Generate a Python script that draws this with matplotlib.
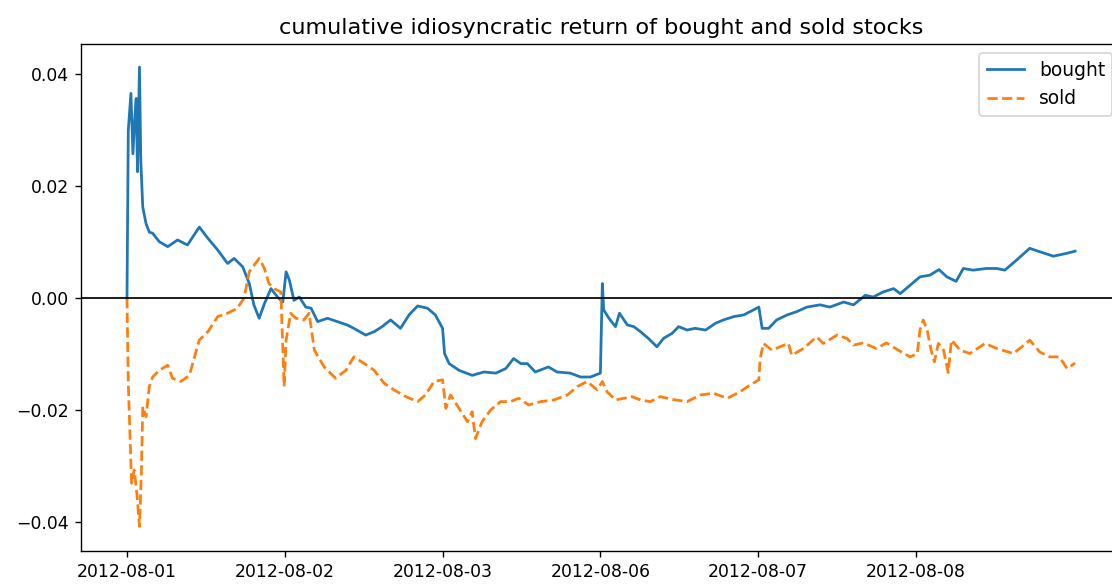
import matplotlib
matplotlib.use("Agg")
import matplotlib.pyplot as plt

# minute index within the trading sessions (240 per day)
bought_x = [0, 2, 6, 9, 12, 14, 16, 19, 21, 24, 29, 34, 39, 49, 62, 77, 92, 110, 123, 138,
            153, 163, 176, 186, 193, 201, 209, 219, 229, 237, 242, 247, 254, 262, 272, 280,
            290, 305, 320, 335, 345, 363, 376, 388, 401, 416, 429, 442, 457, 469, 480, 483,
            490, 505, 525, 543, 561, 576, 588, 599, 609, 621, 641, 654, 674, 690, 705, 720,
            723, 725, 733, 743, 749, 761, 771, 781, 793, 806, 816, 829, 839, 852, 864, 880,
            895, 907, 923, 938, 948, 961, 966, 976, 988, 1004, 1019, 1034, 1054, 1069, 1090,
            1105, 1123, 1135, 1150, 1166, 1176, 1191, 1206, 1221, 1235, 1247, 1261, 1272,
            1287, 1307, 1323, 1335, 1353, 1373, 1388, 1409, 1429, 1442]
bought_y = [0.0, 0.030, 0.0366, 0.0258, 0.0324, 0.0357, 0.0226, 0.0413, 0.0246, 0.0163,
            0.0133, 0.0118, 0.0116, 0.0101, 0.0092, 0.0104, 0.0095, 0.0127, 0.0107, 0.0086,
            0.0062, 0.0071, 0.0056, 0.0026, -0.0012, -0.0036, -0.0010, 0.0017, 0.0002,
            -0.0007, 0.0047, 0.0032, -0.0004, 0.0002, -0.0016, -0.0018, -0.0042, -0.0036,
            -0.0042, -0.0048, -0.0054, -0.0066, -0.0060, -0.0051, -0.0039, -0.0054, -0.0030,
            -0.0014, -0.0018, -0.0030, -0.0054, -0.0099, -0.0117, -0.0129, -0.0138, -0.0132,
            -0.0134, -0.0126, -0.0108, -0.0117, -0.0117, -0.0132, -0.0123, -0.0132, -0.0134,
            -0.0141, -0.0141, -0.0134, 0.0026, -0.0021, -0.0036, -0.0051, -0.0027, -0.0048,
            -0.0051, -0.0060, -0.0072, -0.0087, -0.0072, -0.0063, -0.0051, -0.0057, -0.0054,
            -0.0057, -0.0045, -0.0039, -0.0033, -0.0030, -0.0024, -0.0016, -0.0054, -0.0054,
            -0.0039, -0.0030, -0.0024, -0.0016, -0.0012, -0.0016, -0.0007, -0.0012, 0.0005,
            0.0002, 0.0011, 0.0017, 0.0008, 0.0023, 0.0038, 0.0041, 0.0051, 0.0038, 0.0030,
            0.0053, 0.0050, 0.0053, 0.0053, 0.0050, 0.0068, 0.0089, 0.0083, 0.0075, 0.0080,
            0.0084]

sold_x = [0, 2, 5, 7, 11, 15, 19, 22, 24, 29, 34, 39, 49, 62, 69, 82, 95, 102, 110, 123,
          138, 153, 168, 178, 186, 201, 209, 216, 224, 234, 239, 242, 249, 257, 269, 277,
          285, 300, 317, 333, 345, 361, 376, 391, 406, 424, 442, 454, 467, 480, 485, 492,
          505, 518, 525, 530, 540, 553, 568, 583, 596, 611, 629, 649, 670, 685, 700, 715,
          723, 730, 743, 756, 768, 781, 796, 811, 829, 852, 872, 892, 913, 933, 948, 961,
          963, 968, 981, 993, 1006, 1011, 1029, 1049, 1059, 1080, 1095, 1105, 1120, 1140,
          1155, 1173, 1191, 1202, 1206, 1211, 1217, 1223, 1228, 1234, 1242, 1249, 1254,
          1267, 1282, 1305, 1323, 1348, 1361, 1373, 1388, 1403, 1418, 1430, 1442]
sold_y = [0.0, -0.0152, -0.0260, -0.0331, -0.0307, -0.0349, -0.0408, -0.0307, -0.0194,
          -0.0212, -0.0158, -0.0141, -0.0129, -0.0120, -0.0143, -0.0149, -0.0138, -0.0108,
          -0.0075, -0.0060, -0.0033, -0.0027, -0.0018, 0.0, 0.0047, 0.0071, 0.0053, 0.0026,
          0.0017, 0.0011, -0.0158, -0.0075, -0.0027, -0.0036, -0.0039, -0.0027, -0.0093,
          -0.0123, -0.0143, -0.0129, -0.0105, -0.0117, -0.0129, -0.0152, -0.0164, -0.0176,
          -0.0185, -0.0173, -0.0149, -0.0146, -0.0197, -0.0173, -0.0197, -0.0221, -0.0203,
          -0.0251, -0.0221, -0.0200, -0.0185, -0.0185, -0.0179, -0.0191, -0.0185, -0.0182,
          -0.0173, -0.0158, -0.0149, -0.0164, -0.0149, -0.0167, -0.0182, -0.0179, -0.0176,
          -0.0182, -0.0185, -0.0176, -0.0181, -0.0185, -0.0173, -0.0170, -0.0179, -0.0167,
          -0.0155, -0.0146, -0.0108, -0.0081, -0.0093, -0.0087, -0.0081, -0.0102, -0.0090,
          -0.0069, -0.0081, -0.0066, -0.0072, -0.0084, -0.0080, -0.0090, -0.0080, -0.0093,
          -0.0105, -0.0099, -0.0057, -0.0039, -0.0057, -0.0093, -0.0114, -0.0081, -0.0093,
          -0.0133, -0.0075, -0.0093, -0.0099, -0.0081, -0.0090, -0.0099, -0.0087, -0.0075,
          -0.0096, -0.0105, -0.0105, -0.0126, -0.0116]

day_ticks = [0, 240, 480, 720, 960, 1200]
day_labels = ["2012-08-01", "2012-08-02", "2012-08-03", "2012-08-06", "2012-08-07", "2012-08-08"]

fig = plt.figure(figsize=(1112 / 124, 586 / 124), dpi=124)
ax = fig.add_axes([0.0728, 0.0597, 0.936, 0.865])

ax.plot(bought_x, bought_y, label="bought", linewidth=1.6)
ax.plot(sold_x, sold_y, linestyle="--", label="sold", linewidth=1.6)
ax.axhline(0, color="k", linewidth=1)

ax.set_xticks(day_ticks)
ax.set_xticklabels(day_labels)
ax.set_yticks([-0.04, -0.02, 0.0, 0.02, 0.04])
ax.set_xlim(-70, 1513)
ax.set_ylim(-0.0452, 0.0454)
ax.set_title("cumulative idiosyncratic return of bought and sold stocks", fontsize=13)
ax.legend(loc="upper right", fontsize=10.8)

fig.savefig("out.png", dpi=124)
